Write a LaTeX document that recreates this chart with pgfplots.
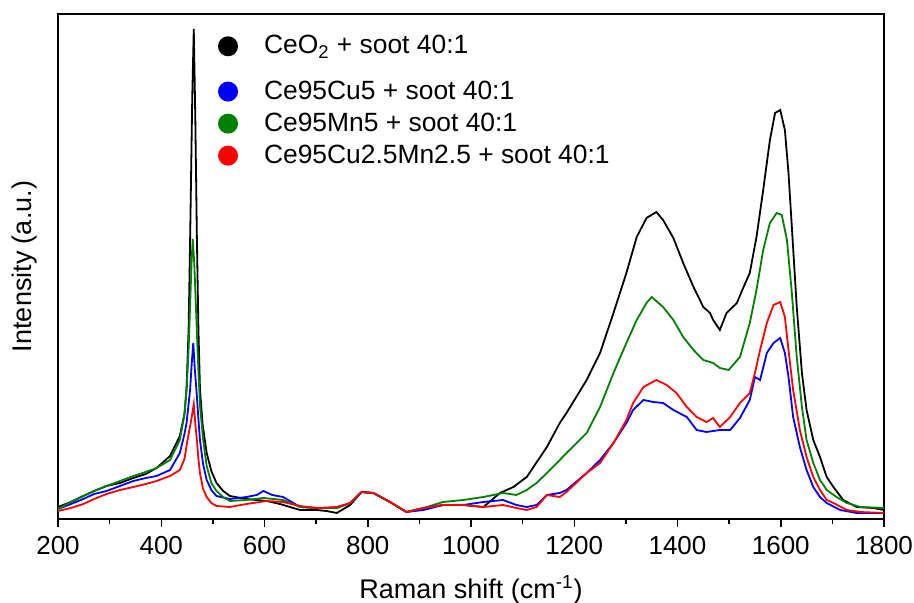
\documentclass[border=0pt]{standalone}
\usepackage{pgfplots}
\pgfplotsset{compat=1.18}
\usepackage{fontspec}
\setmainfont{Liberation Sans}
\usetikzlibrary{calc}
\definecolor{cblack}{RGB}{0,0,0}
\definecolor{cblue}{RGB}{0,0,255}
\definecolor{cgreen}{RGB}{0,128,0}
\definecolor{cred}{RGB}{255,0,0}
\begin{document}
\begin{tikzpicture}
\begin{axis}[
  scale only axis, width=413pt, height=252.5pt,
  xmin=200, xmax=1800, ymin=0, ymax=505,
  xtick={200,400,...,1800}, minor x tick num=1,
  ytick=\empty,
  xtick pos=bottom, tick align=outside,
  major tick length=4pt, minor tick length=2.5pt,
  axis line style={line width=0.75pt},
  every tick/.style={black, line width=0.75pt},
  /pgf/number format/assume math mode=true,
  /pgf/number format/1000 sep={},
  tick label style={font=\fontsize{13}{15}\selectfont},
  xticklabel style={yshift=-1pt},
  xlabel={Raman shift (cm\textsuperscript{-1})},
  ylabel={Intensity (a.u.)},
  every axis x label/.style={at={(axis description cs:0.5,-0.14)}, anchor=center, font=\fontsize{13.5}{16}\selectfont},
  every axis y label/.style={at={(axis description cs:-0.04,0.5)}, anchor=center, rotate=90, font=\fontsize{13.5}{16}\selectfont},
  legend style={draw=none, fill=none, at={(axis description cs:0.186,0.968)}, anchor=north west,
    font=\fontsize{13.2}{15}\selectfont, row sep=4.3pt, nodes={inner ysep=0.5pt}},
  legend cell align=left,
  legend image code/.code={\path[draw=none,fill=none] (-5pt,0) -- (16pt,0); \fill[#1,draw=none] (0,0) circle (5pt);},
  every axis plot/.append style={line width=0.9pt},
]
\addplot[cblack, legend image code/.code={\path[draw=none,fill=none] (-5pt,-12.5pt) -- (16pt,0); \fill[cblack,draw=none] (0,0) circle (5pt);}] table {
200 12
225 17
249 23
270 28
294 33
320 36
346 41
370 45
391 51
417 63
436 83
445 105
449 130
453 190
456 282
460 420
463 490
466 400
469 282
472 190
475 130
480 95
488 66
497 48
507 36
520 28
533 23
565 20
604 18
630 15
649 12
669 9
701 9
720 8
740 6
766 14
788 27
811 26
843 17
875 7
908 11
946 14
985 14
1024 12
1056 26
1082 32
1108 42
1121 52
1147 72
1172 96
1185 106
1224 139
1250 166
1276 206
1301 246
1321 282
1340 301
1359 307
1372 299
1392 281
1411 256
1431 232
1450 212
1463 206
1469 199
1482 189
1495 206
1515 216
1528 232
1540 246
1553 282
1566 329
1579 379
1589 406
1599 409
1608 389
1615 346
1621 296
1631 212
1641 146
1650 109
1663 79
1676 62
1689 42
1702 32
1721 19
1747 12
1779 11
1800 9
};
\addlegendentry{CeO\textsubscript{2} + soot 40:1}
\addplot[cblue] table {
200 10
225 15
249 20
270 25
294 28
320 33
346 38
370 41
391 43
417 49
436 66
445 85
449 96
453 115
456 130
459 155
462 176
465 150
468 130
472 100
475 79
481 55
488 39
497 29
507 23
533 20
565 22
585 24
598 28
615 24
636 22
669 12
701 11
740 11
766 16
788 27
811 26
843 17
875 7
908 9
946 14
985 14
1024 17
1062 19
1088 14
1108 12
1127 14
1147 24
1172 26
1185 29
1224 46
1250 59
1276 76
1301 96
1314 109
1334 119
1353 117
1372 116
1392 109
1418 102
1437 89
1456 87
1482 89
1502 89
1521 101
1540 119
1550 142
1560 139
1573 166
1586 176
1599 181
1608 166
1615 142
1624 102
1637 72
1650 49
1663 32
1676 22
1689 16
1715 9
1747 6
1800 6
};
\addlegendentry{Ce95Cu5 + soot 40:1}
\addplot[cgreen] table {
200 10
225 17
249 23
270 28
294 33
320 38
346 43
370 47
391 51
417 59
436 79
445 105
449 130
453 170
456 215
459 260
461 280
464 255
467 215
471 160
475 114
481 80
488 53
497 36
507 28
520 22
533 18
565 19
598 21
636 19
669 12
701 11
740 11
766 16
788 27
811 26
843 17
875 7
908 11
946 17
985 19
1024 22
1062 26
1088 24
1108 29
1127 36
1147 46
1172 59
1185 66
1224 86
1250 112
1276 146
1301 176
1321 199
1340 216
1350 222
1372 212
1392 199
1411 182
1431 169
1450 159
1469 156
1482 151
1499 149
1521 162
1540 196
1553 229
1566 269
1579 296
1592 306
1602 304
1612 279
1621 229
1631 162
1641 112
1650 79
1663 56
1676 39
1689 29
1708 22
1728 16
1754 12
1800 11
};
\addlegendentry{Ce95Mn5 + soot 40:1}
\addplot[cred] table {
200 8
225 11
249 15
270 20
294 25
320 29
346 32
370 35
391 38
417 43
436 49
445 60
449 73
453 85
456 93
460 105
463 115
466 95
469 79
472 60
475 46
481 30
488 22
497 16
507 13
533 12
565 15
604 18
636 17
669 13
701 11
740 12
766 16
788 27
811 26
843 17
875 7
908 11
946 14
985 14
1024 12
1062 14
1088 11
1108 9
1127 12
1147 24
1172 22
1185 27
1224 46
1250 56
1276 76
1301 99
1314 116
1334 132
1359 139
1379 134
1398 126
1418 112
1437 102
1456 97
1469 101
1482 92
1502 102
1521 116
1540 126
1550 146
1560 169
1573 196
1586 214
1599 217
1608 202
1615 169
1624 129
1637 89
1650 62
1663 42
1676 29
1689 19
1702 16
1728 9
1754 7
1800 6
};
\addlegendentry{Ce95Cu2.5Mn2.5 + soot 40:1}
\coordinate (SW) at (rel axis cs:0,0);
\coordinate (NE) at (rel axis cs:1,1);
\end{axis}
\pgfresetboundingbox
\path[use as bounding box] ($(SW)+(-29pt,-42pt)$) rectangle ($(NE)+(15pt,7pt)$);
\end{tikzpicture}
\end{document}
